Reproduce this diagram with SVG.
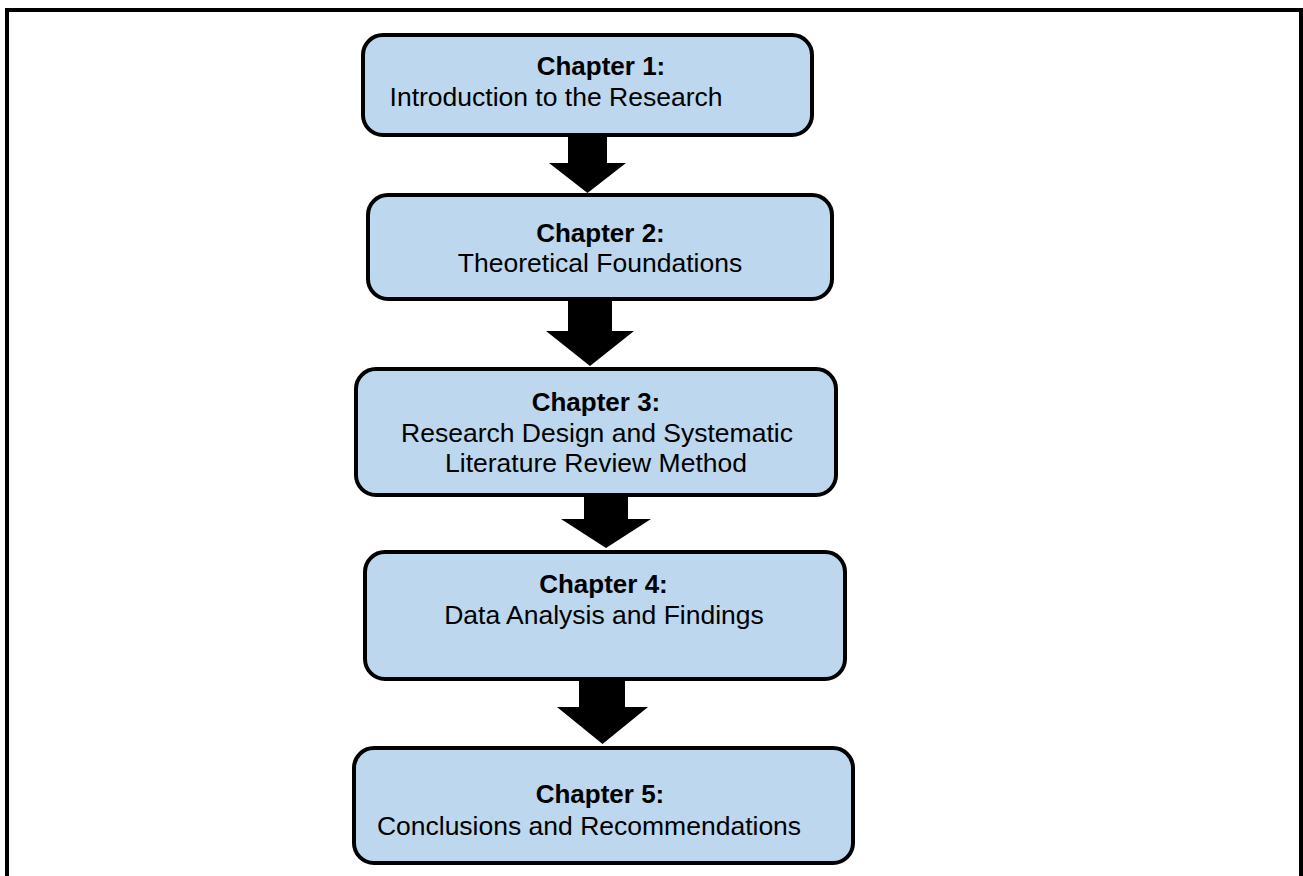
<svg xmlns="http://www.w3.org/2000/svg" width="1303" height="876" viewBox="0 0 1303 876">
<style>
.box{fill:#bdd7ee;stroke:#000;stroke-width:4}
.t{font-family:"Liberation Sans",Arial,sans-serif;font-size:26.5px;fill:#000;text-anchor:middle}
.b{font-weight:bold;font-size:26px}
.arr{fill:#000;stroke:none}
</style>
<rect width="1303" height="876" fill="#fff"/>
<path d="M7,876 V10 H1301 V876" fill="none" stroke="#000" stroke-width="4"/>
<g id="connectors">
<polygon class="arr" points="568,134 607,134 607,163 626,163 587.5,193 549,163 568,163"/>
<polygon class="arr" points="568,298 612,298 612,331 634,331 590,366 546,331 568,331"/>
<polygon class="arr" points="584,494 628,494 628,519 651,519 606,548 561,519 584,519"/>
<polygon class="arr" points="579,678 625,678 625,707 648,707 602.5,744 557,707 579,707"/>
</g>
<g id="node1">
<rect class="box" x="363" y="35" width="449" height="100" rx="20"/>
<text class="t b" x="601" y="75">Chapter 1:</text>
<text class="t" x="556" y="106">Introduction to the Research</text>
</g>
<g id="node2">
<rect class="box" x="368" y="195" width="464" height="104" rx="20"/>
<text class="t b" x="600.5" y="241.5">Chapter 2:</text>
<text class="t" x="600" y="271.5">Theoretical Foundations</text>
</g>
<g id="node3">
<rect class="box" x="356" y="369" width="480" height="126" rx="20"/>
<text class="t b" x="596" y="410.5">Chapter 3:</text>
<text class="t" x="597" y="441.5">Research Design and Systematic</text>
<text class="t" x="596" y="472">Literature Review Method</text>
</g>
<g id="node4">
<rect class="box" x="365" y="552" width="480" height="127" rx="20"/>
<text class="t b" x="603.5" y="593">Chapter 4:</text>
<text class="t" x="604" y="624">Data Analysis and Findings</text>
</g>
<g id="node5">
<rect class="box" x="354" y="748" width="499" height="115" rx="20"/>
<text class="t b" x="600" y="803">Chapter 5:</text>
<text class="t" x="589" y="835">Conclusions and Recommendations</text>
</g>
</svg>
